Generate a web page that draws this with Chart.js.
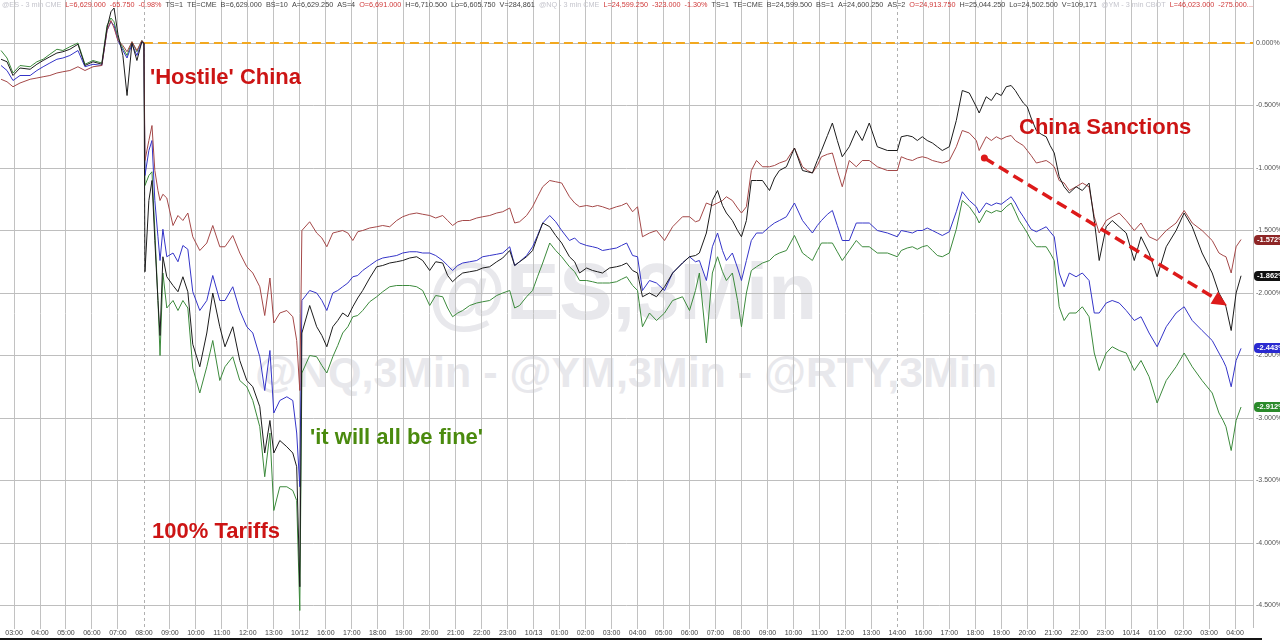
<!DOCTYPE html>
<html><head><meta charset="utf-8">
<script src="https://cdn.jsdelivr.net/npm/chart.js@4"></script>
<style>
body{margin:0;background:#fff;}
#wrap{position:relative;width:1280px;height:640px;overflow:hidden;background:#fff;font-family:"Liberation Sans",Arial,sans-serif;}
.wm{position:absolute;white-space:nowrap;color:#e8e8ec;font-weight:bold;line-height:1;}
#c{position:absolute;left:0;top:0;}
.ann{position:absolute;white-space:nowrap;font-weight:bold;font-size:22px;line-height:22px;}
#hdr{position:absolute;left:2px;top:0;white-space:nowrap;font-size:7.25px;line-height:9px;}
#hdr span{margin-right:4px;}
.tag{position:absolute;left:1254px;height:10px;line-height:10px;font-size:7.5px;font-weight:bold;color:#fff;padding:0 3px 0 3px;border-radius:4px 0 0 4px;white-space:nowrap;}
</style></head>
<body>
<div id="wrap">
  <div class="wm" style="left:428px;top:252px;font-size:80px;">@ES,3Min</div>
  <div class="wm" style="left:255px;top:351px;font-size:43px;">@NQ,3Min - @YM,3Min - @RTY,3Min</div>
  <canvas id="c" width="1280" height="640"></canvas>
  <div id="hdr"></div>
  <div class="ann" style="left:150px;top:66px;color:#cc1414;">'Hostile' China</div>
  <div class="ann" style="left:152px;top:520px;color:#cc1414;">100% Tariffs</div>
  <div class="ann" style="left:310px;top:426px;color:#4a8a0e;">'it will all be fine'</div>
  <div class="ann" style="left:1019px;top:116px;color:#cc1414;">China Sanctions</div>
  <div id="tags"></div>
</div>
<script>
// x-axis hour labels (one per hour slot)
const xLabels = ["03:00","04:00","05:00","06:00","07:00","08:00","09:00","10:00","11:00","12:00","13:00","10/12",
"16:00","17:00","18:00","19:00","20:00","21:00","22:00","23:00","10/13","01:00","02:00","03:00",
"04:00","05:00","06:00","07:00","08:00","09:00","10:00","11:00","12:00","13:00","14:00","16:00",
"17:00","18:00","19:00","20:00","21:00","22:00","23:00","10/14","01:00","02:00","03:00","04:00"];

// sample times, in hour slots from the first label
const times = [
-0.50,-0.27,-0.04,0.23,0.62,0.88,1.12,1.38,1.65,1.88,2.15,2.46,
2.73,3.04,3.38,3.58,3.73,3.85,4.00,4.19,4.35,4.54,4.73,4.92,
5.00,5.04,5.19,5.31,5.42,5.54,5.62,5.73,5.88,6.12,6.31,6.50,
6.69,6.88,7.15,7.42,7.65,7.92,8.12,8.42,8.69,8.96,9.19,9.46,
9.65,9.85,10.00,10.23,10.50,10.73,10.88,11.00,11.08,11.38,11.65,11.85,
12.04,12.27,12.46,12.65,12.85,13.04,13.23,13.42,13.69,13.96,14.19,14.46,
14.73,14.96,15.23,15.50,15.73,16.00,16.23,16.50,16.69,16.88,17.08,17.27,
17.54,17.81,18.04,18.31,18.58,18.81,19.08,19.27,19.46,19.73,19.96,20.15,
20.35,20.62,20.85,21.08,21.38,21.58,21.77,22.04,22.27,22.46,22.65,22.92,
23.19,23.38,23.58,23.81,24.00,24.19,24.46,24.73,25.04,25.35,25.73,26.00,
26.23,26.38,26.65,26.88,27.08,27.27,27.42,27.65,27.85,28.00,28.19,28.38,
28.58,28.81,29.08,29.27,29.46,29.73,30.04,30.35,30.54,30.73,30.92,31.08,
31.31,31.50,31.69,31.88,32.15,32.42,32.65,32.92,33.23,33.62,34.00,34.15,
34.38,34.58,34.77,34.96,35.15,35.35,35.54,35.73,36.00,36.27,36.50,36.77,
37.04,37.15,37.42,37.62,37.81,38.00,38.19,38.38,38.54,38.69,38.85,39.00,
39.15,39.35,39.54,39.73,39.88,40.04,40.23,40.42,40.62,40.88,41.12,41.38,
41.58,41.77,42.04,42.27,42.54,42.81,43.12,43.38,43.69,44.00,44.35,44.73,
45.04,45.35,45.73,46.12,46.38,46.54,46.65,46.85,47.04,47.23
];

// % change series
const ym = [
-0.29,-0.31,-0.35,-0.32,-0.29,-0.28,-0.27,-0.26,-0.24,-0.23,-0.22,-0.19,
-0.22,-0.19,-0.18,0.10,0.18,0.12,0.02,-0.02,-0.07,0.01,-0.06,0.02,
0,-0.94,-0.78,-0.66,-1.02,-1.18,-1.26,-1.21,-1.24,-1.46,-1.38,-1.42,
-1.36,-1.55,-1.66,-1.60,-1.46,-1.63,-1.63,-1.54,-1.68,-1.79,-1.84,-1.95,
-2.18,-1.88,-2.24,-2.16,-2.14,-2.19,-2.38,-2.78,-1.50,-1.43,-1.52,-1.56,
-1.63,-1.52,-1.51,-1.50,-1.52,-1.58,-1.51,-1.50,-1.48,-1.47,-1.46,-1.47,
-1.42,-1.39,-1.37,-1.36,-1.37,-1.38,-1.40,-1.38,-1.42,-1.46,-1.43,-1.42,
-1.42,-1.40,-1.39,-1.38,-1.36,-1.35,-1.32,-1.44,-1.43,-1.38,-1.31,-1.23,
-1.15,-1.10,-1.11,-1.12,-1.23,-1.28,-1.31,-1.30,-1.31,-1.30,-1.31,-1.33,
-1.31,-1.30,-1.28,-1.35,-1.31,-1.55,-1.52,-1.50,-1.58,-1.47,-1.39,-1.39,
-1.43,-1.42,-1.28,-1.30,-1.28,-1.26,-1.23,-1.26,-1.32,-1.36,-1.31,-1.02,
-0.94,-0.99,-0.99,-0.98,-0.96,-0.94,-0.84,-0.99,-1.02,-1.04,-0.98,-0.91,
-0.89,-0.88,-1.02,-1.15,-0.94,-0.99,-0.94,-0.94,-0.99,-1.02,-1.02,-0.91,
-0.93,-0.94,-0.92,-0.91,-0.92,-0.94,-0.95,-0.96,-0.94,-0.83,-0.70,-0.72,
-0.78,-0.86,-0.75,-0.78,-0.75,-0.77,-0.75,-0.74,-0.78,-0.80,-0.82,-0.86,
-0.90,-0.96,-0.95,-0.94,-0.96,-0.99,-1.10,-1.12,-1.18,-1.15,-1.12,-1.15,
-1.39,-1.52,-1.42,-1.39,-1.36,-1.42,-1.50,-1.44,-1.55,-1.58,-1.50,-1.44,
-1.34,-1.44,-1.50,-1.58,-1.68,-1.70,-1.71,-1.84,-1.63,-1.572
];
const nq = [
-0.18,-0.22,-0.30,-0.26,-0.26,-0.22,-0.19,-0.16,-0.13,-0.12,-0.10,-0.06,
-0.19,-0.17,-0.18,0.10,0.17,0.14,0.02,-0.06,-0.12,-0.01,-0.10,0.01,
0,-1.06,-0.86,-0.78,-1.26,-1.55,-1.74,-1.49,-1.71,-1.68,-1.75,-1.62,
-1.65,-1.99,-2.14,-2.06,-1.86,-2.06,-2.06,-1.95,-2.14,-2.27,-2.32,-2.51,
-2.78,-2.46,-2.96,-2.86,-2.83,-2.86,-3.12,-3.55,-2.06,-1.98,-2.00,-2.06,
-2.14,-2.00,-1.98,-1.95,-1.92,-1.87,-1.86,-1.82,-1.78,-1.74,-1.72,-1.71,
-1.70,-1.68,-1.67,-1.67,-1.68,-1.68,-1.70,-1.74,-1.78,-1.82,-1.78,-1.76,
-1.75,-1.74,-1.71,-1.70,-1.69,-1.68,-1.63,-1.78,-1.75,-1.70,-1.63,-1.54,
-1.44,-1.38,-1.43,-1.50,-1.58,-1.56,-1.60,-1.62,-1.63,-1.64,-1.66,-1.65,
-1.64,-1.62,-1.60,-1.70,-1.71,-1.98,-1.90,-1.92,-1.98,-1.84,-1.76,-1.71,
-1.75,-1.74,-1.90,-1.63,-1.52,-1.66,-1.74,-1.68,-1.80,-1.90,-1.74,-1.58,
-1.52,-1.52,-1.47,-1.44,-1.42,-1.39,-1.28,-1.42,-1.47,-1.52,-1.46,-1.42,
-1.37,-1.34,-1.46,-1.58,-1.58,-1.44,-1.44,-1.44,-1.50,-1.52,-1.55,-1.50,
-1.51,-1.52,-1.50,-1.50,-1.48,-1.50,-1.52,-1.54,-1.51,-1.35,-1.19,-1.26,
-1.31,-1.36,-1.28,-1.30,-1.28,-1.29,-1.26,-1.23,-1.28,-1.34,-1.39,-1.44,
-1.49,-1.51,-1.49,-1.47,-1.51,-1.55,-1.84,-1.95,-1.84,-1.87,-1.84,-1.90,
-2.16,-2.16,-2.08,-2.06,-2.08,-2.14,-2.22,-2.19,-2.32,-2.43,-2.27,-2.16,
-2.11,-2.22,-2.30,-2.38,-2.48,-2.54,-2.59,-2.75,-2.54,-2.443
];
const es = [
-0.13,-0.15,-0.26,-0.20,-0.21,-0.17,-0.14,-0.11,-0.08,-0.07,-0.05,-0.01,
-0.18,-0.15,-0.17,0.12,0.25,0.28,0.07,-0.10,-0.42,0.00,-0.14,0.01,
0,-1.83,-1.26,-1.10,-1.58,-2.06,-2.34,-1.71,-1.87,-1.94,-1.99,-1.87,
-1.99,-2.41,-2.59,-2.32,-2.00,-2.27,-2.43,-2.27,-2.54,-2.70,-2.75,-2.91,
-3.28,-3.02,-3.28,-3.18,-3.23,-3.28,-3.39,-4.35,-2.32,-2.10,-2.27,-2.34,
-2.43,-2.27,-2.22,-2.16,-2.19,-2.11,-2.04,-1.98,-1.88,-1.79,-1.78,-1.76,
-1.75,-1.74,-1.72,-1.71,-1.74,-1.82,-1.75,-1.76,-1.86,-1.91,-1.87,-1.84,
-1.83,-1.82,-1.80,-1.79,-1.75,-1.72,-1.66,-1.78,-1.75,-1.71,-1.66,-1.55,
-1.44,-1.47,-1.54,-1.60,-1.71,-1.75,-1.84,-1.80,-1.82,-1.83,-1.84,-1.80,
-1.79,-1.78,-1.76,-1.82,-1.84,-2.03,-2.00,-2.03,-1.95,-1.84,-1.76,-1.71,
-1.70,-1.68,-1.52,-1.26,-1.18,-1.30,-1.36,-1.42,-1.50,-1.55,-1.42,-1.10,
-1.10,-1.10,-1.18,-1.08,-1.02,-0.99,-0.84,-1.02,-1.03,-1.04,-0.94,-0.86,
-0.74,-0.64,-0.78,-0.91,-0.83,-0.70,-0.78,-0.64,-0.83,-0.86,-0.86,-0.75,
-0.74,-0.75,-0.78,-0.75,-0.78,-0.80,-0.83,-0.86,-0.83,-0.62,-0.38,-0.40,
-0.51,-0.56,-0.43,-0.46,-0.40,-0.42,-0.35,-0.34,-0.38,-0.43,-0.48,-0.51,
-0.60,-0.70,-0.73,-0.75,-0.82,-0.88,-1.07,-1.15,-1.20,-1.15,-1.18,-1.12,
-1.42,-1.74,-1.47,-1.42,-1.47,-1.52,-1.74,-1.55,-1.68,-1.87,-1.63,-1.50,
-1.36,-1.47,-1.68,-1.84,-2.00,-2.06,-2.11,-2.30,-2.00,-1.862
];
const rty = [
-0.06,-0.12,-0.24,-0.18,-0.19,-0.15,-0.13,-0.09,-0.05,-0.06,-0.03,0.00,
-0.17,-0.14,-0.16,0.14,0.20,0.17,0.04,-0.04,-0.10,0.01,-0.07,0.02,
0,-1.14,-1.06,-1.03,-1.50,-2.06,-2.50,-1.84,-2.12,-2.06,-2.14,-2.06,
-2.12,-2.60,-2.80,-2.59,-2.38,-2.70,-2.59,-2.51,-2.70,-2.75,-2.86,-3.07,
-3.47,-3.12,-3.74,-3.55,-3.55,-3.58,-3.66,-4.54,-2.64,-2.50,-2.51,-2.58,
-2.64,-2.51,-2.42,-2.32,-2.27,-2.19,-2.18,-2.14,-2.07,-2.03,-1.99,-1.95,
-1.94,-1.94,-1.94,-1.95,-1.98,-2.10,-2.02,-2.03,-2.12,-2.19,-2.16,-2.14,
-2.10,-2.08,-2.07,-2.06,-2.02,-2.00,-1.98,-2.12,-2.10,-2.03,-1.98,-1.87,
-1.76,-1.60,-1.66,-1.71,-1.79,-1.83,-1.90,-1.90,-1.91,-1.92,-1.92,-1.92,
-1.91,-1.89,-1.87,-1.94,-1.98,-2.27,-2.16,-2.22,-2.16,-2.06,-2.03,-2.14,
-1.98,-1.84,-2.40,-1.84,-1.71,-1.83,-1.90,-1.84,-2.06,-2.27,-2.00,-1.82,
-1.79,-1.76,-1.74,-1.70,-1.68,-1.66,-1.54,-1.68,-1.71,-1.74,-1.66,-1.60,
-1.60,-1.60,-1.67,-1.74,-1.66,-1.58,-1.63,-1.63,-1.68,-1.68,-1.71,-1.66,
-1.64,-1.63,-1.65,-1.63,-1.62,-1.66,-1.70,-1.71,-1.68,-1.49,-1.26,-1.31,
-1.39,-1.44,-1.34,-1.36,-1.34,-1.35,-1.31,-1.28,-1.35,-1.42,-1.47,-1.52,
-1.58,-1.63,-1.63,-1.63,-1.68,-1.74,-2.11,-2.22,-2.16,-2.16,-2.11,-2.19,
-2.48,-2.62,-2.48,-2.43,-2.46,-2.48,-2.62,-2.54,-2.67,-2.88,-2.70,-2.59,
-2.48,-2.59,-2.70,-2.80,-2.96,-3.02,-3.07,-3.26,-3.02,-2.912
];

// reference (0%) line from the pre-announcement level
const refTimes = [5.0, 47.69];
const refVals = [0, 0];
// session-break (dashed) vertical lines, in hour slots
const sessionBreaks = [5, 34];
// arrow annotation endpoints (hour slot, %)
const arrowFrom = [37.35, -0.92];
const arrowTo = [46.69, -2.10];

const header = [
 ['#c4c4cc','@ES - 3 min CME'],['#d03a3a','L=6,629.000'],['#d03a3a','-65.750'],['#d03a3a','-0.98%'],
 ['#444','TS=1'],['#444','TE=CME'],['#444','B=6,629.000'],['#444','BS=10'],['#444','A=6,629.250'],['#444','AS=4'],
 ['#d03a3a','O=6,691.000'],['#444','H=6,710.500'],['#444','Lo=6,605.750'],['#444','V=284,861'],
 ['#c4c4cc','@NQ - 3 min CME'],['#d03a3a','L=24,599.250'],['#d03a3a','-323.000'],['#d03a3a','-1.30%'],
 ['#444','TS=1'],['#444','TE=CME'],['#444','B=24,599.500'],['#444','BS=1'],['#444','A=24,600.250'],['#444','AS=2'],
 ['#d03a3a','O=24,913.750'],['#444','H=25,044.250'],['#444','Lo=24,502.500'],['#444','V=109,171'],
 ['#c4c4cc','@YM - 3 min CBOT'],['#d03a3a','L=46,023.000'],['#d03a3a','-275.000...']
];
const hdr = document.getElementById('hdr');
header.forEach(([c,t])=>{const s=document.createElement('span');s.style.color=c;s.textContent=t;hdr.appendChild(s);});

const series = [
  {name:'ES', vals:es, color:'#1c1c1c', tag:'#111111'},
  {name:'YM', vals:ym, color:'#a44848', tag:'#8e2626'},
  {name:'NQ', vals:nq, color:'#3434c8', tag:'#2a2ad0'},
  {name:'RTY', vals:rty, color:'#3c8a3c', tag:'#2b8a2b'}
];

const datasets = series.map(s=>({
  label:s.name, data:times.map((t,i)=>({x:t,y:s.vals[i]})),
  borderColor:s.color, borderWidth:1, pointRadius:0, tension:0, fill:false
}));
datasets.push({label:'ref', data:refTimes.map((t,i)=>({x:t,y:refVals[i]})),
  borderColor:'#f2a820', borderWidth:2, borderDash:[9,5], pointRadius:0, fill:false});

const overlay = {
  id:'overlay',
  beforeDatasetsDraw(chart){
    const {ctx, chartArea:a, scales:{x}} = chart;
    ctx.save();
    ctx.strokeStyle='#b0b0b0'; ctx.lineWidth=1; ctx.setLineDash([3,3]);
    sessionBreaks.forEach(h=>{const px=Math.round(x.getPixelForValue(h))+0.5;
      ctx.beginPath(); ctx.moveTo(px,a.top); ctx.lineTo(px,a.bottom); ctx.stroke();});
    ctx.restore();
  },
  afterDatasetsDraw(chart){
    const {ctx, scales:{x,y}} = chart;
    const x0=x.getPixelForValue(arrowFrom[0]), y0=y.getPixelForValue(arrowFrom[1]);
    const x1=x.getPixelForValue(arrowTo[0]), y1=y.getPixelForValue(arrowTo[1]);
    const dx=x1-x0, dy=y1-y0, L=Math.hypot(dx,dy), ux=dx/L, uy=dy/L;
    const head=15, hw=7;
    ctx.save();
    ctx.strokeStyle='#dd1a1a'; ctx.fillStyle='#dd1a1a'; ctx.lineWidth=3.5; ctx.setLineDash([11,6]);
    ctx.beginPath(); ctx.moveTo(x0,y0); ctx.lineTo(x1-ux*head,y1-uy*head); ctx.stroke();
    ctx.setLineDash([]);
    ctx.beginPath(); ctx.arc(x0,y0,3.5,0,Math.PI*2); ctx.fill();
    ctx.beginPath(); ctx.moveTo(x1,y1);
    ctx.lineTo(x1-ux*head-uy*hw, y1-uy*head+ux*hw);
    ctx.lineTo(x1-ux*head+uy*hw, y1-uy*head-ux*hw);
    ctx.closePath(); ctx.fill();
    ctx.fillStyle='#141414'; ctx.fillRect(0,638,1262,2);
    ctx.restore();
  },
  afterRender(chart){
    const tags=document.getElementById('tags'); tags.innerHTML='';
    const y=chart.scales.y;
    series.forEach(s=>{const v=s.vals[s.vals.length-1];
      const d=document.createElement('div'); d.className='tag'; d.style.background=s.tag;
      d.style.top=(y.getPixelForValue(v)-5)+'px'; d.textContent=v.toFixed(3)+'%'; tags.appendChild(d);});
  }
};

new Chart(document.getElementById('c'), {
  type:'line',
  data:{datasets},
  plugins:[overlay],
  options:{
    responsive:false, animation:false, devicePixelRatio:1,
    layout:{padding:0, autoPadding:false},
    plugins:{legend:{display:false}, tooltip:{enabled:false}},
    scales:{
      x:{type:'linear', min:-0.54, max:47.69,
        afterFit(s){s.height=13; s.paddingLeft=0; s.paddingRight=0;},
        grid:{color:c=>sessionBreaks.includes(c.tick&&c.tick.value)?'rgba(0,0,0,0)':'#c2c2c2', tickLength:2, lineWidth:1},
        border:{display:false},
        ticks:{stepSize:1, includeBounds:false, autoSkip:false, maxRotation:0, padding:0,
          color:'#444', font:{size:7, family:'"Liberation Sans", Arial'},
          callback:v=>xLabels[Math.round(v)] ?? ''}
      },
      y:{type:'linear', position:'right', min:-4.672, max:0.344,
        afterFit(s){s.width=27; s.paddingTop=0; s.paddingBottom=0;},
        grid:{color:'#bebebe', drawTicks:false, lineWidth:1},
        border:{display:true, color:'#bdbdbd'},
        ticks:{stepSize:0.5, includeBounds:false, padding:3, color:'#555',
          font:{size:7, family:'"Liberation Sans", Arial'},
          callback:v=>v.toFixed(3)+'%'}
      }
    }
  }
});
</script>
</body></html>
